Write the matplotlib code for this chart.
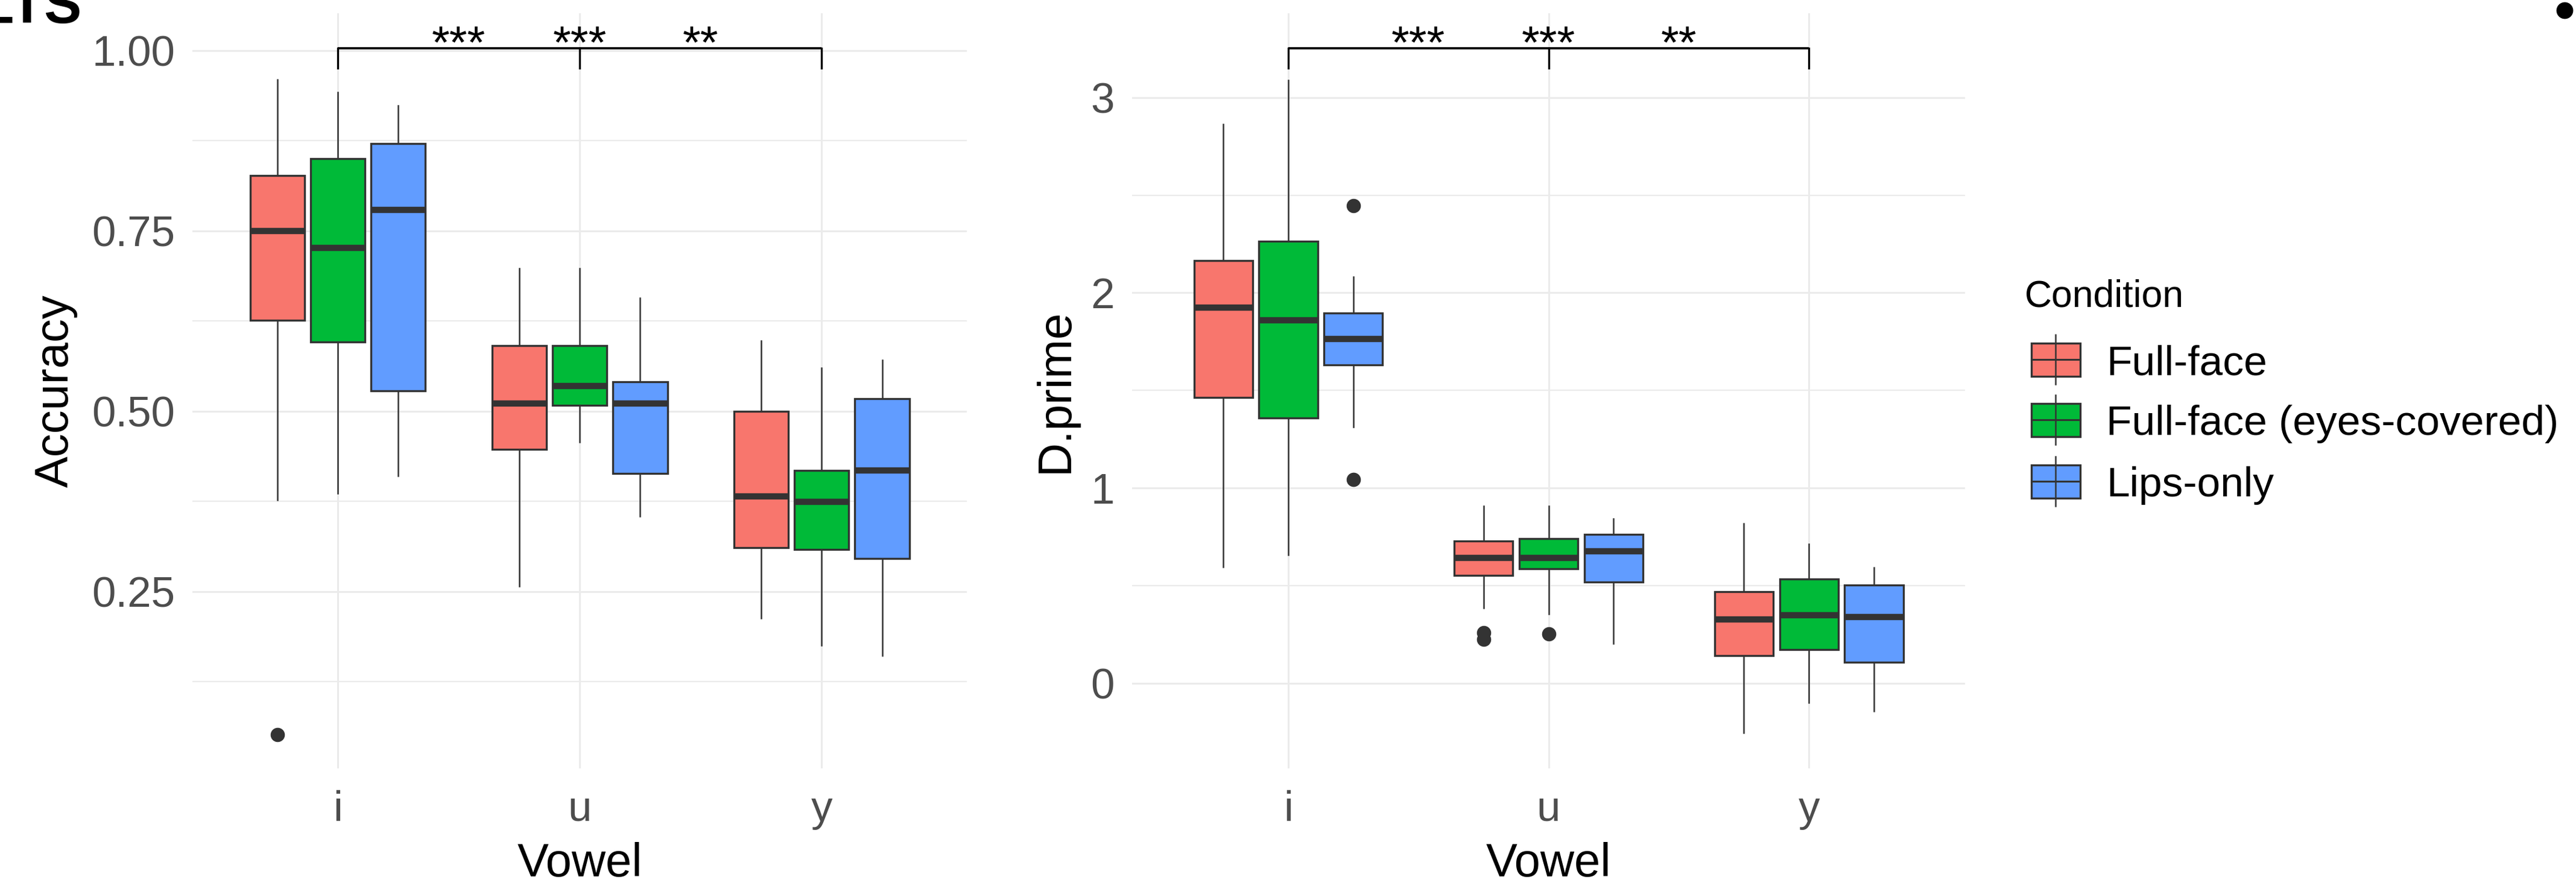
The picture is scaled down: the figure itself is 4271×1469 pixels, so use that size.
import matplotlib
matplotlib.use('Agg')
import matplotlib.pyplot as plt
from matplotlib.patches import Rectangle

plt.rcParams['font.family'] = ['Liberation Sans', 'DejaVu Sans']

vowels = ['i', 'u', 'y']
conditions = ['Full-face', 'Full-face (eyes-covered)', 'Lips-only']
colors = ['#F8766D', '#00BA38', '#619CFF']

# rows = condition, cols = vowel (i, u, y)
acc_whislo = [[0.377, 0.257, 0.213], [0.386, 0.457, 0.175], [0.410, 0.354, 0.161]]
acc_q1 = [[0.626, 0.447, 0.311], [0.596, 0.508, 0.308], [0.528, 0.414, 0.296]]
acc_med = [[0.750, 0.511, 0.382], [0.726, 0.535, 0.374], [0.779, 0.511, 0.418]]
acc_q3 = [[0.827, 0.591, 0.500], [0.850, 0.591, 0.418], [0.871, 0.541, 0.517]]
acc_whishi = [[0.960, 0.698, 0.598], [0.942, 0.698, 0.560], [0.924, 0.657, 0.571]]
acc_fliers = [[[0.052], [], []], [[], [], []], [[], [], []]]

dp_whislo = [[0.595, 0.387, -0.254], [0.659, 0.356, -0.099], [1.312, 0.204, -0.143]]
dp_q1 = [[1.464, 0.554, 0.141], [1.360, 0.587, 0.174], [1.630, 0.519, 0.109]]
dp_med = [[1.924, 0.642, 0.327], [1.859, 0.642, 0.349], [1.763, 0.675, 0.339]]
dp_q3 = [[2.165, 0.728, 0.469], [2.264, 0.741, 0.534], [1.895, 0.762, 0.503]]
dp_whishi = [[2.864, 0.909, 0.819], [3.090, 0.909, 0.712], [2.081, 0.843, 0.592]]
dp_fliers = [[[], [0.259, 0.225], []], [[], [0.252], []], [[2.445, 1.044], [], []]]

sig_labels = ['***', '***', '**']
sig_x = [1.5, 2.0, 2.5]

EDGE = '#333333'
GRID = '#EBEBEB'


def draw_panel(ax, whislo, q1, med, q3, whishi, fliers, ylim, major, minor,
               ylabel, bracket_y, bracket_tick, star_y, ylab_x):
    offsets = [-0.25, 0.0, 0.25]
    for c in range(3):
        stats = []
        for v in range(3):
            stats.append(dict(whislo=whislo[c][v], q1=q1[c][v], med=med[c][v],
                              q3=q3[c][v], whishi=whishi[c][v], fliers=fliers[c][v]))
        ax.bxp(stats, positions=[v + 1 + offsets[c] for v in range(3)], widths=0.225,
               patch_artist=True, showcaps=False, manage_ticks=False,
               boxprops=dict(facecolor=colors[c], edgecolor=EDGE, linewidth=2.4),
               medianprops=dict(color=EDGE, linewidth=7.5, solid_capstyle='butt'),
               whiskerprops=dict(color=EDGE, linewidth=1.8),
               flierprops=dict(marker='o', markerfacecolor=EDGE, markeredgecolor=EDGE,
                               markersize=16))

    # significance bracket
    ax.plot([1, 3], [bracket_y, bracket_y], color='black', lw=2.6, solid_capstyle='butt', clip_on=False)
    for xt in [1, 2, 3]:
        ax.plot([xt, xt], [bracket_y, bracket_tick], color='black', lw=2.4, clip_on=False)
    for lab, xs in zip(sig_labels, sig_x):
        ax.text(xs, star_y, lab, ha='center', va='baseline', fontsize=55, color='black')

    ax.set_xlim(0.4, 3.6)
    ax.set_ylim(*ylim)
    ax.set_xticks([1, 2, 3])
    ax.set_xticklabels(vowels)
    ax.set_yticks(major)
    ax.set_yticks(minor, minor=True)
    ax.grid(which='major', axis='both', color=GRID, lw=2.2)
    ax.grid(which='minor', axis='y', color=GRID, lw=1.6)
    ax.set_axisbelow(True)
    for s in ax.spines.values():
        s.set_visible(False)
    ax.tick_params(axis='both', which='both', length=0, labelsize=51, labelcolor='#4D4D4D')
    ax.tick_params(axis='x', pad=26)
    ax.tick_params(axis='y', pad=21)
    ax.set_ylabel(ylabel, fontsize=56, va='baseline')
    ax.yaxis.set_label_coords(ylab_x, 0.5)
    ax.set_xlabel('Vowel', fontsize=56, va='baseline')
    ax.xaxis.set_label_coords(0.5, -0.1429)


fig = plt.figure(figsize=(42.71, 14.69), dpi=100)
ax1 = fig.add_axes([0.07478, 0.13288, 0.30054, 0.85248])
ax2 = fig.add_axes([0.43948, 0.13288, 0.32334, 0.85248])

draw_panel(ax1, acc_whislo, acc_q1, acc_med, acc_q3, acc_whishi, acc_fliers,
           (0.005, 1.052), [0.25, 0.50, 0.75, 1.00], [0.125, 0.375, 0.625, 0.875],
           'Accuracy', 1.003, 0.9755, 0.9906, -0.1608)
ax1.set_yticklabels(['0.25', '0.50', '0.75', '1.00'])

draw_panel(ax2, dp_whislo, dp_q1, dp_med, dp_q3, dp_whishi, dp_fliers,
           (-0.435, 3.433), [0, 1, 2, 3], [0.5, 1.5, 2.5],
           'D.prime', 3.2515, 3.150, 3.2064, -0.0768)

# overlay in pixel coordinates for legend and slide fragments
ov = fig.add_axes([0, 0, 1, 1])
ov.set_xlim(0, 4271)
ov.set_ylim(1469, 0)
ov.axis('off')
ov.patch.set_alpha(0)

ov.text(3357, 508, 'Condition', fontsize=45, ha='left', va='baseline', color='black')
key_y = [596, 696, 798]
for c in range(3):
    yc = key_y[c]
    ov.plot([3408, 3408], [yc - 41, yc + 41], color=EDGE, lw=1.8)
    ov.add_patch(Rectangle((3368, yc - 27.5), 81, 55, facecolor=colors[c], edgecolor=EDGE, lw=2.4))
    ov.plot([3368, 3449], [yc, yc], color=EDGE, lw=2.2)
    ov.text(3492, yc + 25, conditions[c], fontsize=50, ha='left', va='baseline', color='black')

ov.text(136, 38, 'RESULTS', fontsize=67, fontweight='bold', ha='right', va='baseline', color='black')
ov.plot([4252], [17], marker='o', markersize=19, color='black', clip_on=False)

fig.savefig('out.png', dpi=100)
